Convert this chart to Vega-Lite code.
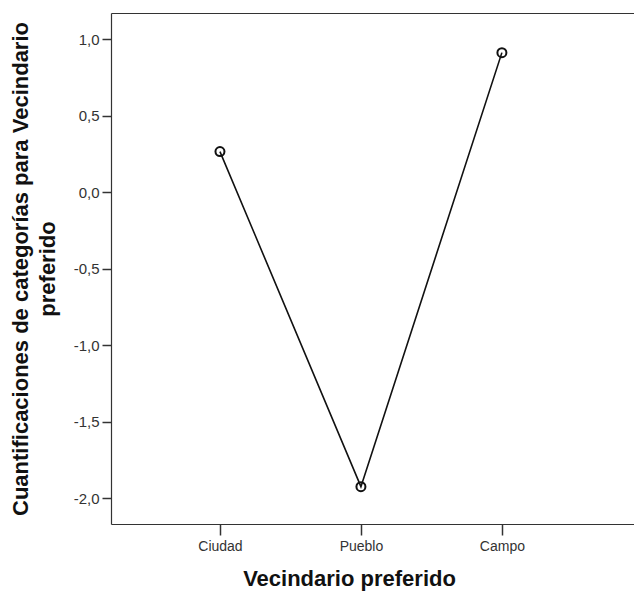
{
  "$schema": "https://vega.github.io/schema/vega-lite/v6.json",
  "autosize": "none",
  "padding": {"left": 111, "top": 13, "right": 0, "bottom": 69},
  "width": 523,
  "height": 511,
  "background": "white",
  "view": {"stroke": null},
  "config": {
    "font": "Liberation Sans",
    "axis": {"grid": false, "domainColor": "#333", "domainWidth": 1.2, "tickColor": "#333", "tickWidth": 1.5, "labelColor": "#333", "titleColor": "#111"}
  },
  "data": {"values": [
    {"vecindario": "Ciudad", "cuant": 0.267},
    {"vecindario": "Pueblo", "cuant": -1.923},
    {"vecindario": "Campo", "cuant": 0.914}
  ]},
  "resolve": {"scale": {"x": "independent"}, "axis": {"x": "independent"}},
  "layer": [
    {
      "mark": {"type": "line", "color": "#111", "strokeWidth": 1.6},
      "encoding": {
        "x": {"field": "vecindario", "type": "ordinal", "sort": null,
          "scale": {"type": "point", "domain": ["Ciudad", "Pueblo", "Campo"], "padding": 0.855, "align": 0.452},
          "axis": {"orient": "bottom", "title": "Vecindario preferido", "labelAngle": 0, "labelFontSize": 14, "tickSize": 11, "labelPadding": 4,
            "titleFontSize": 22, "titleFontWeight": "bold", "titlePadding": 15, "titleX": 238, "titleAlign": "center"}},
        "y": {"field": "cuant", "type": "quantitative",
          "scale": {"domain": [-2.167, 1.173], "nice": false, "zero": false},
          "axis": {"title": ["Cuantificaciones de categorías para Vecindario", "preferido"],
            "values": [-2, -1.5, -1, -0.5, 0, 0.5, 1],
            "labelExpr": "replace(replace(format(datum.value, '.1f'), '.', ','), '\u2212', '-')",
            "labelFontSize": 15, "tickSize": 9, "labelPadding": 3,
            "titleFontSize": 22, "titleFontWeight": "bold", "titlePadding": 14, "titleLineHeight": 27}}
      }
    },
    {
      "mark": {"type": "point", "shape": "circle", "filled": false, "color": "#111", "size": 81, "strokeWidth": 2, "opacity": 1},
      "encoding": {
        "x": {"field": "vecindario", "type": "ordinal", "sort": null,
          "scale": {"type": "point", "domain": ["Ciudad", "Pueblo", "Campo"], "padding": 0.855, "align": 0.452},
          "axis": null},
        "y": {"field": "cuant", "type": "quantitative"}
      }
    },
    {
      "mark": {"type": "point", "opacity": 0},
      "encoding": {
        "x": {"field": "cuant", "type": "quantitative",
          "axis": {"orient": "top", "title": null, "labels": false, "ticks": false, "domain": true}},
        "y": {"field": "cuant", "type": "quantitative"}
      }
    }
  ]
}
